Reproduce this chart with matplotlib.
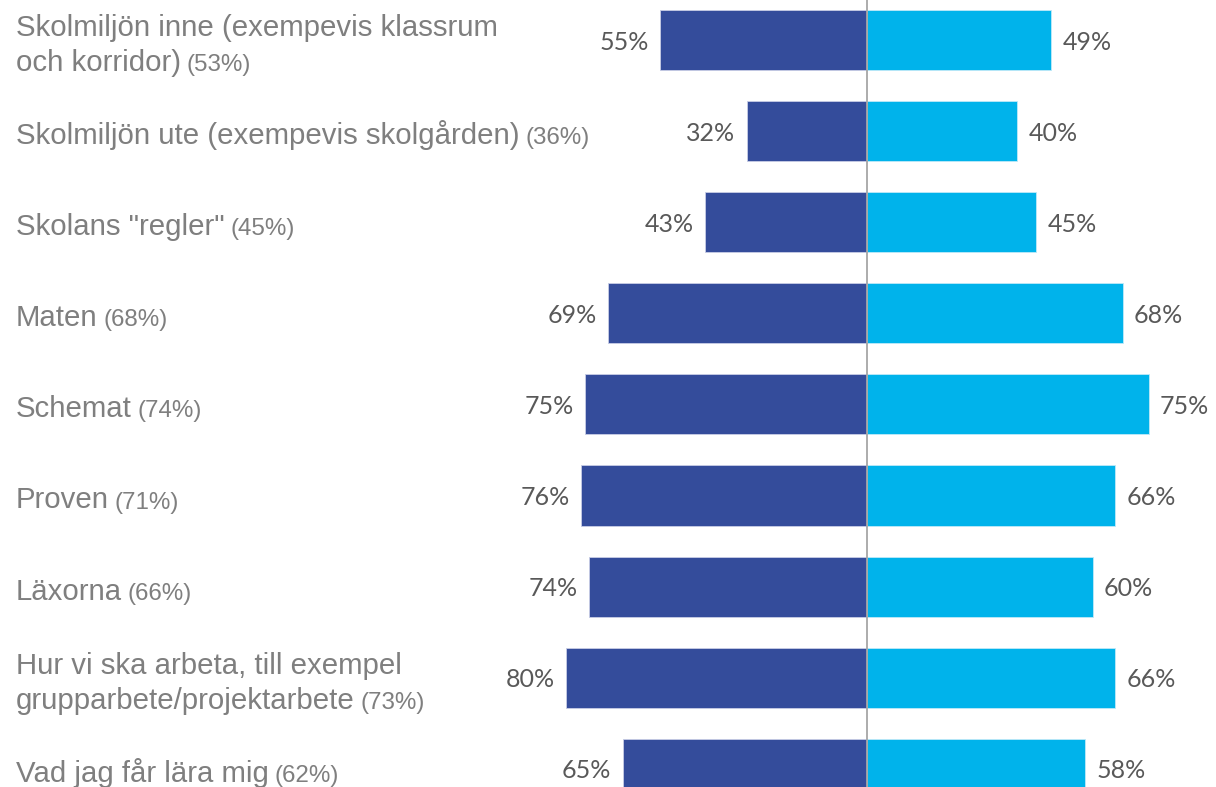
import matplotlib
matplotlib.use("Agg")
import matplotlib.pyplot as plt
import numpy as np

# data
categories = [
    "Skolmiljön inne (exempevis klassrum\noch korridor)",
    "Skolmiljön ute (exempevis skolgården)",
    'Skolans "regler"',
    "Maten",
    "Schemat",
    "Proven",
    "Läxorna",
    "Hur vi ska arbeta, till exempel\ngrupparbete/projektarbete",
    "Vad jag får lära mig",
]
totals = [53, 36, 45, 68, 74, 71, 66, 73, 62]
left_vals = [55, 32, 43, 69, 75, 76, 74, 80, 65]
right_vals = [49, 40, 45, 68, 75, 66, 60, 66, 58]

dark = "#344c9b"
light = "#00b3eb"
label_grey = "#7f7f7f"
value_grey = "#595959"

W, H = 1216, 787
fig = plt.figure(figsize=(W / 100, H / 100), dpi=100)
ax = fig.add_axes([0, 0, 1, 1])
ax.axis("off")

px_per_pct = 3.76
center_px = 867
row_px = 91.1
first_px = 40
ax.set_xlim(-center_px / px_per_pct, (W - center_px) / px_per_pct)
ax.set_ylim((H - first_px) / row_px, -first_px / row_px)

y = np.arange(len(categories))
ax.barh(y, [-v for v in left_vals], height=0.66, color=dark, edgecolor="#c8cde6", linewidth=0.6)
ax.barh(y, right_vals, height=0.66, color=light, edgecolor="#bfe9f8", linewidth=0.6)
ax.axvline(0, color="#a6a6a6", lw=1.3, zorder=3)

vfont = dict(family=["Lato", "DejaVu Sans"], fontsize=18, color=value_grey)
for i, (l, r) in enumerate(zip(left_vals, right_vals)):
    ax.annotate(f"{l}%", (-l, i), xytext=(-8, -1.5), textcoords="offset points",
                ha="right", va="center", **vfont)
    ax.annotate(f"{r}%", (r, i), xytext=(8, -1.5), textcoords="offset points",
                ha="left", va="center", **vfont)

# category labels (baselines), total in smaller type after the last line
lfont = dict(family=["Liberation Sans", "DejaVu Sans"], color=label_grey)
x_lab = ax.get_xlim()[0] + 16 / px_per_pct
for i, (cat, tot) in enumerate(zip(categories, totals)):
    lines = cat.split("\n")
    if len(lines) == 1:
        offsets = [13]
    else:
        offsets = [-4, 31]
    for k, line in enumerate(lines):
        yy = i + offsets[k] / row_px
        t = ax.text(x_lab, yy, line, ha="left", va="baseline", fontsize=21.2, **lfont)
        if k == len(lines) - 1:
            ax.annotate(f"({tot}%)", xy=(1, yy), xycoords=(t, "data"), xytext=(4, 0),
                        textcoords="offset points", ha="left", va="baseline",
                        fontsize=17.4, **lfont)

fig.savefig("out.png", dpi=100)
